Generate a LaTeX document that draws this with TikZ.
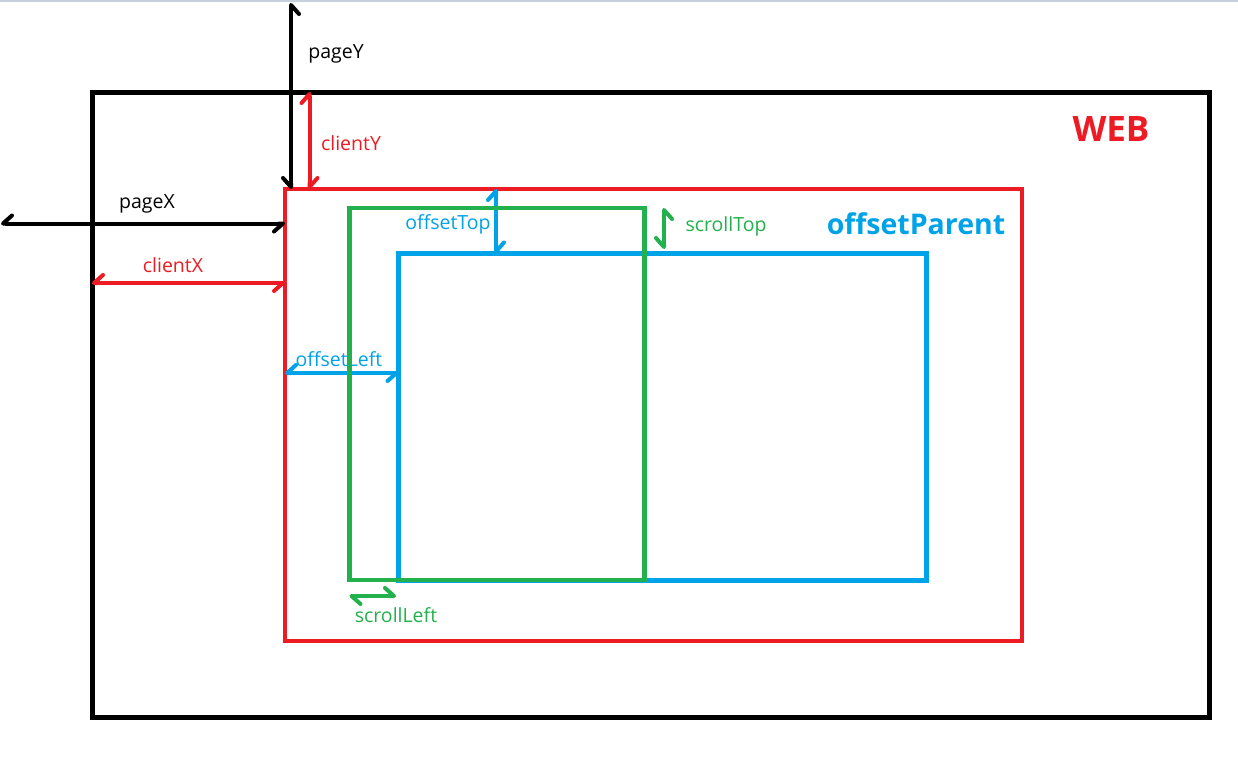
\documentclass[tikz,border=0pt]{standalone}
\usepackage{fontspec}
\setmainfont{Open Sans}
\usetikzlibrary{arrows.meta}
\definecolor{pred}{HTML}{ED1C24}
\definecolor{pgreen}{HTML}{22B14C}
\definecolor{pblue}{HTML}{00A2E8}
\definecolor{topline}{HTML}{C8D0DC}
\tikzset{
  box/.style={draw=#1, line width=4.5pt, fill=none, inner sep=0pt, outer sep=0pt, anchor=north west},
  hp/.style={{Straight Barb[harpoon,length=9pt,width=16pt,round]}-{Straight Barb[harpoon,length=9pt,width=16pt,round]}},
  hps/.style={{Straight Barb[harpoon,swap,length=9pt,width=16pt,round]}-{Straight Barb[harpoon,swap,length=9pt,width=16pt,round]}},
  meas/.style={draw=#1, line width=4pt},
  lbl/.style={text=#1, font=\fontsize{19.5}{21}\selectfont, inner sep=0pt},
  big/.style 2 args={text=#1, font=\fontsize{#2}{36}\selectfont\bfseries, inner sep=0pt}
}
\begin{document}
\begin{tikzpicture}[x=1pt,y=-1pt]
\useasboundingbox (0,0) rectangle (1238,774);
\fill[white] (0,0) rectangle (1238,774);
\fill[topline] (0,0) rectangle (1238,2);
% boxes
\node[box=black, line width=5pt, minimum width=1117pt, minimum height=625pt] (web) at (92,92) {};
\node[box=pred, minimum width=737pt, minimum height=452pt] (parent) at (285,189) {};
\node[box=pblue, minimum width=528pt, minimum height=327pt] (elem) at (398.5,253.5) {};
% coordinates
\coordinate (pyT) at (291,3);
\coordinate (pyB) at (291,189);
\coordinate (pxL) at (1,223.5);
\coordinate (pxR) at (285,223.5);
\coordinate (cyT) at (309.5,92);
\coordinate (cyB) at (309.5,189);
\coordinate (cxL) at (92,283);
\coordinate (cxR) at (285,283);
\coordinate (otT) at (496,189);
\coordinate (otB) at (496,253.5);
\coordinate (olL) at (285,373);
\coordinate (olR) at (398.5,373);
\coordinate (stT) at (664,208);
\coordinate (stB) at (664,249);
\coordinate (slL) at (349.5,596);
\coordinate (slR) at (396,596);
% measurement arrows
\draw[meas=black, hps] (pyT) -- (pyB);
\draw[meas=black, hps] (pxL) -- (pxR);
\draw[meas=pred, hp] (cyT) -- (cyB);
\draw[meas=pred, hps] (cxL) -- (cxR);
\draw[meas=pblue, hp] (otT) -- (otB);
\draw[meas=pblue, hps] (olL) -- (olR);
\draw[meas=pgreen, hps] (stT) -- (stB);
\draw[meas=pgreen, hp] (slL) -- (slR);
% labels
\node[lbl=black] (lpy) at (336,54) {pageY};
\node[lbl=black] (lpx) at (147,204) {pageX};
\node[lbl=pred] (lcy) at (351,143) {clientY};
\node[lbl=pred] (lcx) at (173,265) {clientX};
\node[lbl=pblue] (lot) at (448,224) {offsetTop};
\node[lbl=pblue] (lol) at (339,359) {offsetLeft};
\node[lbl=pgreen] (lst) at (726,226) {scrollTop};
\node[lbl=pgreen] (lsl) at (396,615) {scrollLeft};
\node[big={pred}{35}] (lweb) at (1111,129) {WEB};
\node[big={pblue}{28.5}] (lop) at (916,224) {offsetParent};
% scroll box drawn on top
\node[box=pgreen, minimum width=295pt, minimum height=372pt] (scroll) at (349.5,208) {};
\end{tikzpicture}
\end{document}
